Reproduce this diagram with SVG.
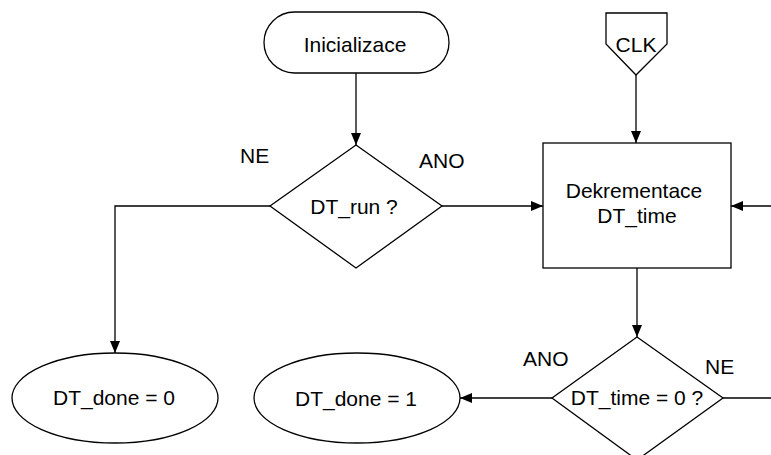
<svg xmlns="http://www.w3.org/2000/svg" width="771" height="455" viewBox="0 0 771 455">
<style>
.s{fill:#fff;stroke:#000;stroke-width:1.3}
.c{fill:none;stroke:#000;stroke-width:1.3}
text{font-family:"Liberation Sans",Arial,sans-serif;font-size:21px;fill:#000}
.m{text-anchor:middle}
</style>
<defs>
<marker id="a" viewBox="0 0 12 10" refX="12" refY="5" markerWidth="12" markerHeight="10" markerUnits="userSpaceOnUse" orient="auto">
<path d="M0,0L12,5L0,10z" fill="#000"/>
</marker>
</defs>
<rect width="771" height="455" fill="#fff"/>
<g id="connectors">
<path class="c" d="M356,73V145" marker-end="url(#a)"/>
<path class="c" d="M636,75V143" marker-end="url(#a)"/>
<path class="c" d="M442,206H543" marker-end="url(#a)"/>
<path class="c" d="M771,206H731" marker-end="url(#a)"/>
<path class="c" d="M270,206H115V353" marker-end="url(#a)"/>
<path class="c" d="M637,268V337" marker-end="url(#a)"/>
<path class="c" d="M552,398H460" marker-end="url(#a)"/>
<path class="c" d="M723,398H771"/>
</g>
<g id="labels">
<text x="240" y="163">NE</text>
<text x="419" y="168">ANO</text>
<text x="523" y="366">ANO</text>
<text x="705" y="374">NE</text>
</g>
<g id="inicializace">
<rect class="s" x="264" y="12" width="185" height="61" rx="30.5"/>
<text class="m" x="355" y="52">Inicializace</text>
</g>
<g id="clk">
<path class="s" d="M606,13H667V44L636,75L606,44Z"/>
<text class="m" x="636" y="52">CLK</text>
</g>
<g id="dt_run">
<path class="s" d="M356,145L442,206L356,268L270,206Z"/>
<text class="m" x="354" y="214">DT_run ?</text>
</g>
<g id="dekrementace">
<rect class="s" x="543" y="143" width="188" height="125"/>
<text class="m" x="634" y="198">Dekrementace</text>
<text class="m" x="637" y="223">DT_time</text>
</g>
<g id="dt_time">
<path class="s" d="M637,337L723,398L637,460L552,398Z"/>
<text class="m" x="637" y="405">DT_time = 0 ?</text>
</g>
<g id="dt_done0">
<ellipse class="s" cx="115" cy="398" rx="103" ry="45"/>
<text class="m" x="114" y="405">DT_done = 0</text>
</g>
<g id="dt_done1">
<ellipse class="s" cx="357" cy="398" rx="103" ry="45"/>
<text class="m" x="356" y="406">DT_done = 1</text>
</g>
</svg>
